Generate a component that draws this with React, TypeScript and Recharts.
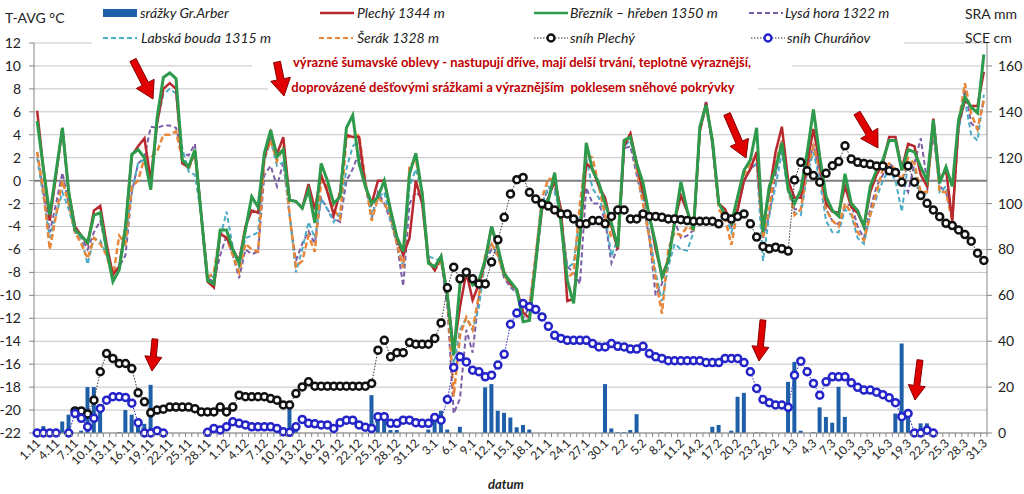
import {
  ComposedChart,
  Bar,
  Line,
  XAxis,
  YAxis,
  CartesianGrid,
  ReferenceLine,
} from 'recharts';

// months of the winter season (1.11 – 31.3)
const months = [
  { m: 11, days: 30 },
  { m: 12, days: 31 },
  { m: 1, days: 31 },
  { m: 2, days: 28 },
  { m: 3, days: 31 },
];
const dates: string[] = months.flatMap(({ m, days }) =>
  Array.from({ length: days }, (_, d) => `${d + 1}.${m}`)
);

const tempTicks = [-22, -20, -18, -16, -14, -12, -10, -8, -6, -4, -2, 0, 2, 4, 6, 8, 10, 12];
const rightTicks = [0, 20, 40, 60, 80, 100, 120, 140, 160];

// T-AVG °C
const plechy = [
  6.1, 1, -3.5, 0.5, 4.6, -1, -4, -4.8, -5.5, -2.6,
  -2.2, -5.5, -8.2, -7.5, -4, 2.2, 3, 3.7, 0, 5,
  8, 8.5, 8, 1.5, 1.2, 2.5, -3, -8.8, -9.3, -4.6,
  -5, -6, -7, -4, -2.6, -2.8, 2, 4.2, 2.3, 3.8,
  -1.7, -1.8, -2.4, -0.3, -2.5, 0.5, -1, -3, -1, 4,
  3.8, 3.8, -0.5, -2, 0, 0, -2.6, -5, -6.5, -5,
  0, -2, -7, -7.8, -6.6, -10, -14.8, -11, -8, -10.4,
  -9, -7, -4, -6, -8, -9, -9.5, -11.5, -12, -7,
  -2.5, -1.5, 0, -2.5, -10.5, -10.3, -5, 1.5, 1, -0.5,
  -1.5, -4, -6, 3, 4.1, 1.5, -1, -3, -6, -8.2,
  -7, -3.5, -1.3, -2.7, -4.2, 4.3, 6.8, 3.3, -2, -2.5,
  -3.8, -2.5, 0, 1, 2.5, -4, -1, 2.5, 4.7, 0,
  -1.5, -1.5, 1.5, 4.5, 1.5, -2, -2.7, -2.8, -0.5, -2.3,
  -2.8, -4, -1, 0.5, 1.5, 3.8, 3.8, 1, 3.2, 3,
  0.5, -0.5, 5.4, 0, 1, -3.5, 5, 7, 6.5, 6.5,
  9.5,
];
const breznik = [
  5.2, 1, -3, 0.8, 4.6, -1, -4.3, -4.8, -5.4, -3,
  -2.8, -6, -8.8, -7.8, -4, 2.3, 2.7, 2, -0.8, 5.5,
  9, 9.4, 8.9, 1.8, 1.2, 2.7, -3, -8.7, -9, -4.3,
  -4.3, -6, -7.2, -4.3, -1.4, -2.3, 2.4, 4.4, 2.1, 2.7,
  -1.7, -1.8, -2.4, -0.8, -3.7, 1.5, 0, -2, -1.4, 4.6,
  5.7, 1.5, -0.5, -2, -1.4, 0, -2.6, -4.9, -6.2, 0.6,
  2.4, -1.1, -7.2, -7.5, -6.6, -10, -15.2, -9, -7.9, -9.1,
  -8.7, -6.9, -4, -5.8, -8.1, -8.8, -9.5, -12.3, -12.2, -7.2,
  -2, -1.7, 0.7, -3.7, -8.7, -10.7, -4.9, 3.3, 0.9, -0.2,
  -2, -3.7, -5.8, 3.5, 3.8, 1.5, -0.2, -3.1, -5.5, -8.4,
  -7, -3.7, -0.1, -2.6, -4.3, 4.7, 6.6, 3.5, -2, -2.9,
  -3.7, -1.4, 0.9, 1.8, 4.6, -4.5, -0.5, 1, 3.3, -0.8,
  -2, -0.8, 2.4, 6.2, 2.1, -1.4, -2.6, -3.1, 0.6, -2,
  -2.6, -4, -0.5, 0.9, 1.8, 3.5, 3.5, 0.9, 2.7, 2.5,
  1.2, 0, 5.3, -0.2, 1.2, -0.5, 5.3, 7.3, 6.4, 5.9,
  11,
];
const lysa = [
  2.5, -1, -4.5, -2, 0.7, -2, -4.5, -5, -6, -4.5,
  -3.5, -6, -8, -7.5, -6.5, -1, 1.5, 2, 4.7, 4.6,
  4.8, 4.8, 4.6, 2.4, 2.2, 3.2, -3, -8.5, -8.8, -6.5,
  -4.8, -6.5, -8.5, -6, -6.4, -6.2, 0.5, 1.3, -0.5, 1.6,
  -3, -7, -5.5, -4.4, -5.5, -1.5, -2.5, -3.3, -3.6, 0,
  1, 2.5, -0.3, -3.3, -1, -2, -3.5, -5.5, -9.2, -2,
  -1, -1.5, -7, -7.8, -7, -11, -20.3, -19, -13, -15,
  -10, -7, -6, -6.5, -8.5, -9.3, -9.8, -12, -11, -6.5,
  -2, -0.7, -0.5, -3, -7.5, -8, -9, -0.6, -2, -2,
  -3.5, -7.2, -5.8, 2.8, 3, 0.5, -2, -5, -10, -9,
  -6.5, -3.5, -5, -4.8, -4.3, 4.5, 7, 3, -2, -3,
  -4, -2.5, 0, 1, 1.5, -5, -3, 0.5, 3.5, -0.5,
  -2.5, -2.5, 0.8, 3.2, 0.5, -2.5, -3.5, -3.8, -2.3, -2,
  -4, -5, -2.5, -0.5, 0.5, 1.5, 1, 0, -1, 1.5,
  3.7, 0, 4, -0.5, -1, -3, 4.5, 8, 5, 4.5,
  7,
];
const labska = [
  2, -1.5, -5, -3, -1, -2.5, -4.5, -5, -7.3, -5,
  -5.2, -6.5, -8, -7.5, -5, -1, 1.6, 1.8, -0.5, 5,
  7.5, 8, 7.6, 2.8, 0.8, 0.5, -3, -8, -8.5, -5,
  -2.7, -5.8, -7.5, -5, -4.8, -4.5, 1.7, 3.5, 1.3, 1.6,
  -3, -8, -6, -3.6, -5, -1.6, -2.5, -3.6, -2.8, 1,
  3, 3.5, 0, -3, -1.5, -1, -3.5, -5.5, -7.5, -0.5,
  1, -1, -6.6, -6.8, -7, -10, -16, -13, -12, -13,
  -11, -7, -5.5, -6.5, -8, -9, -9.8, -11, -10.8, -7,
  -2, -0.5, -1, -3, -7.6, -7.2, -3, 2, -0.7, -1.5,
  -3, -6.6, -5, 3, 3.5, 1, -1.5, -4.5, -8, -10.5,
  -7.5, -5.5, -6, -6.1, -4.5, 4.3, 6.5, 3, -2, -3,
  -4.5, -2.5, 0, 1, 1.5, -7, -3, -0.5, 2.5, -1,
  -2.8, -3, 0.5, 2.5, 0, -3.5, -4.5, -4.5, -2.5, -3,
  -5, -5.5, -3, -1.5, 0, 1, 0, -2.7, 1.5, 1,
  -1.5, -1, 4.5, -1, -0.5, -3.5, 4.5, 7, 4, 3.5,
  7.5,
];
const serak = [
  2.5, -1, -6, -3, 0, -2, -4.5, -5.5, -6.8, -5,
  -5.5, -6.5, -8.5, -4.8, -5.5, -0.5, 0, 2, 2, 2.5,
  4, 4, 4.3, 1.8, 1, 2.5, -3, -8.5, -8, -4.5,
  -5, -6.5, -8, -5.5, -6, -6.2, 2, 3.5, 1.7, 3,
  -3, -7.5, -7, -4.8, -6.2, 0, -0.5, -2.5, -3.3, 3.8,
  3.8, 4, 0, -3.5, -1.5, -2, -3, -5.5, -7.6, 1.3,
  1.8, -1, -7, -7.8, -7, -10, -18.8, -13.5, -11.9, -13,
  -10, -6.5, -5.5, -6.5, -8.3, -9, -9.5, -11.5, -11, -6.5,
  -1.5, 0.2, 0, -3, -8.5, -8, -2, 2.3, 2, -0.5,
  -3, -5, -5, 3.5, 4, 1, -2, -5, -8.5, -11.6,
  -6, -4.5, -4.8, -4, -4.3, 4.5, 6.5, 3.5, -2.5, -3.3,
  -5.6, -2.5, 0.5, 1.5, 2.2, -5, -2.5, 1.5, 3.5, -0.5,
  -3, -2.5, 1, 3, 1, -2.5, -3.5, -4, -2, -2.8,
  -4.5, -5.2, -3, -1, 1, 1.5, 1, 0, 2, 1.5,
  -1, -1, 5, -1, -1, -3.5, 5, 8.5, 5.8, 4.5,
  7,
];

// SRA mm – srážky Gr.Arber
const srazky = [
  0.5, 3, 0.5, 1, 5, 8, 0, 1, 20, 20,
  10, 0, 0, 0.3, 10, 8, 3, 4, 21, 0,
  0, 0, 0, 0, 0, 0, 0, 0, 0, 0,
  0, 0, 0, 0, 0, 0, 0, 0, 0, 0,
  12, 1, 0, 0, 0, 0, 0, 0, 0, 0,
  0, 0, 0, 16.5, 7, 5.6, 1.3, 1.3, 0, 0,
  0, 0, 1.5, 8.5, 9.7, 1.5, 0, 2.7, 0, 0,
  0, 19.9, 21.3, 9.7, 8.8, 6.8, 2.5, 3.5, 1.5, 0,
  0, 0, 0, 0, 0, 0, 0, 0, 0, 0,
  21.3, 2, 0.3, 0.3, 1.3, 8.2, 0, 0, 0, 0.2,
  0.2, 0, 0, 0, 0, 0, 0, 2.7, 3.5, 0,
  1, 15.8, 17.5, 0, 0.2, 0.2, 0, 0, 0, 22.3,
  31, 1, 0, 0.3, 11.2, 7, 4.5, 20.1, 7, 0,
  0, 0, 0, 0, 0, 0, 8.5, 39, 8.5, 0,
  4.2, 4.2, 0, 0, 0, 0, 0, 0, 0, 0,
  0,
];

// SCE cm
const snihPlechy = [
  null, null, null, null, null, null, 9.6, 9.6, 8.3, 14.3,
  26.7, 34.6, 32.5, 30.3, 30.3, 28.1, 17.5, 13.6, 8.8, 10,
  10.4, 11.3, 11.3, 11.3, 11.3, 10.6, 9.2, 9.2, 9.2, 11.3,
  9.2, 11.3, 16.5, 15.8, 15.8, 15.8, 15.8, 15, 14.3, 12.2,
  12.2, 17.2, 20.1, 22.3, 20.4, 20.4, 20.4, 20.4, 20.4, 20.4,
  20.4, 20.4, 20.4, 21.6, 36.1, 40.4, 33.2, 35, 35, 39.4,
  38.7, 38.7, 38.7, 41.2, 48, 63.3, 72.3, 67.2, 70.1, 67.2,
  65, 65, 74.5, 84.2, 94, 104.2, 110.4, 111.4, 104.9, 102,
  99.9, 98.9, 97.2, 95.5, 95.5, 93.3, 91.2, 91.2, 92.6, 92.6,
  91.2, 94.4, 97.2, 97.2, 93.3, 93.3, 95.5, 94.4, 94.4, 94,
  93.3, 93.3, 93, 92.6, 92.3, 92.3, 92.3, 92.3, 91.2, 94.4,
  93.3, 94.4, 95.5, 91.2, 85.4, 81.3, 80.3, 81, 80.3, 79.3,
  110.3, 118, 114.3, 112.2, 109.3, 113.2, 116.5, 118.3, 125.2, 119.4,
  118, 117.5, 117.1, 116.4, 116.4, 114.3, 113.6, 109.3, 116.4, 109.3,
  103.5, 100.1, 97.2, 94.3, 91.4, 90.4, 88.5, 86.5, 83.6, 78.4,
  75.2,
];
const snihChuranov = [
  0, 0, 0, 0, null, 0, 8.5, 6.4, 2.7, 6.4,
  10.7, 14.3, 15.8, 15.8, 15.5, 13, 4.5, 0, 0, 1,
  0, null, null, null, null, null, null, 0.3, 2, 1.3,
  2.7, 4.9, 4.2, 3.5, 2.7, 2.7, 2.7, 2.7, 2, 0.5,
  0.3, 2.7, 5.9, 4.2, 4, 3.5, 3.5, 2, 4.5, 5.6,
  5.6, 3.5, 2.5, 2, 7.1, 7.1, 4.2, 4.2, 5.6, 5.6,
  4.5, 4.2, 4.2, 6.8, 5.6, 14.6, 28.6, 33.2, 31, 27.4,
  26.7, 24.5, 25.2, 29.6, 34.3, 47.4, 52.3, 56.4, 55, 53.8,
  50.6, 46.5, 42.6, 41.2, 40.4, 40.4, 40.4, 40.4, 39, 37.5,
  37.5, 39, 37.8, 37.5, 36.6, 36.6, 37.8, 34.6, 33.2, 32.5,
  31.5, 31.5, 31.5, 31.5, 31.5, 31.5, 30.7, 30.7, 30.7, 32.5,
  32.5, 32.5, 30.7, 26.7, 19.4, 14.6, 13.2, 12.2, 12.2, 11.2,
  25.2, 31.3, 26.7, 21.6, 16.5, 22.3, 24.5, 24.5, 24.5, 21.9,
  19.9, 18.7, 18.7, 17.8, 16.7, 15.4, 13.2, 7.1, 8.5, 0,
  0, 1.2, 0, null, null, null, null, null, null, null,
  null,
];

const FONT = 'Lato, "Open Sans", sans-serif';
const AXIS = '#868686';
const C = {
  bar: '#1F5FA8',
  plechy: '#B8282E',
  breznik: '#2E9A4C',
  lysa: '#7B5EA7',
  labska: '#4BACC6',
  serak: '#E8873A',
  snihP: '#111111',
  snihC: '#2424C8',
};

const data = dates.map((d, i) => ({
  d,
  srazky: srazky[i],
  plechy: plechy[i],
  breznik: breznik[i],
  lysa: lysa[i],
  labska: labska[i],
  serak: serak[i],
  snihPlechy: snihPlechy[i],
  snihChuranov: snihChuranov[i],
}));

function DateTick(props: any) {
  const { x, y, payload } = props;
  const i = props.index ?? payload.index;
  return (
    <g>
      <line x1={x + 3.15} x2={x + 3.15} y1={y} y2={y + 4} stroke={AXIS} />
      {i % 3 === 0 && (
        <text
          transform={`translate(${x + 4},${y + 11}) rotate(-45)`}
          textAnchor="end"
          fontSize={12}
          fill="#222"
          fontFamily={FONT}
        >
          {payload.value}
        </text>
      )}
    </g>
  );
}

// red annotation arrows: [tailX, tailY, tipX, tipY, scale]
const arrows = [
  [133, 60, 153, 99, 1],
  [277, 62, 284, 96, 1],
  [727, 114, 746, 158, 1],
  [857, 113, 878, 148, 1],
  [155, 339, 152, 371, 0.85],
  [763, 320, 759, 361, 0.85],
  [920, 360, 915, 400, 0.85],
];

function arrowPath(x1: number, y1: number, x2: number, y2: number, s: number) {
  const sw = 7 * s, hw = 20 * s, hl = 17 * s;
  const dx = x2 - x1, dy = y2 - y1;
  const len = Math.hypot(dx, dy);
  const ux = dx / len, uy = dy / len;
  const px = -uy, py = ux;
  const bx = x2 - ux * hl, by = y2 - uy * hl;
  const pts = [
    [x1 + (px * sw) / 2, y1 + (py * sw) / 2],
    [bx + (px * sw) / 2, by + (py * sw) / 2],
    [bx + (px * hw) / 2, by + (py * hw) / 2],
    [x2, y2],
    [bx - (px * hw) / 2, by - (py * hw) / 2],
    [bx - (px * sw) / 2, by - (py * sw) / 2],
    [x1 - (px * sw) / 2, y1 - (py * sw) / 2],
  ];
  return pts.map((p) => p.join(',')).join(' ');
}

function Sym({ kind, color }: { kind: string; color: string }) {
  return (
    <svg width={34} height={12} style={{ display: 'block' }}>
      {kind === 'bar' && <rect x={0} y={2} width={34} height={8} fill={color} />}
      {kind === 'line' && <line x1={0} x2={34} y1={6} y2={6} stroke={color} strokeWidth={2.5} />}
      {kind === 'dash' && (
        <line x1={0} x2={34} y1={6} y2={6} stroke={color} strokeWidth={2} strokeDasharray="5 3" />
      )}
      {kind === 'dot' && (
        <g>
          <line x1={0} x2={34} y1={6} y2={6} stroke="#333" strokeWidth={1} strokeDasharray="1.5 1.5" />
          <circle cx={17} cy={6} r={3.5} fill="#fff" stroke={color} strokeWidth={2.4} />
        </g>
      )}
    </svg>
  );
}

const legendItems = [
  { sx: 103, tx: 140, cy: 13, kind: 'bar', color: C.bar, label: 'srážky Gr.Arber' },
  { sx: 320, tx: 357, cy: 13, kind: 'line', color: C.plechy, label: 'Plechý 1344 m' },
  { sx: 534, tx: 570, cy: 13, kind: 'line', color: C.breznik, label: 'Březník – hřeben 1350 m' },
  { sx: 749, tx: 785, cy: 13, kind: 'dash', color: C.lysa, label: 'Lysá hora 1322 m' },
  { sx: 103, tx: 141, cy: 38, kind: 'dash', color: C.labska, label: 'Labská bouda 1315 m' },
  { sx: 319, tx: 357, cy: 38, kind: 'dash', color: C.serak, label: 'Šerák 1328 m' },
  { sx: 534, tx: 570, cy: 38, kind: 'dot', color: C.snihP, label: 'sníh Plechý' },
  { sx: 751, tx: 787, cy: 38, kind: 'dot', color: C.snihC, label: 'sníh Churáňov' },
];

export default function App() {
  return (
    <div style={{ position: 'relative', width: 1024, height: 494, background: '#fff', fontFamily: FONT }}>
      <style>{`body{margin:0}`}</style>
      <ComposedChart
        width={1024}
        height={494}
        data={data}
        margin={{ top: 43, right: 0, bottom: 0, left: 0 }}
      >
        <CartesianGrid yAxisId="t" vertical={false} stroke="#C4C4C4" />
        <XAxis
          dataKey="d"
          height={61}
          interval={0}
          tickLine={false}
          tickSize={0}
          tickMargin={0}
          axisLine={{ stroke: AXIS }}
          tick={<DateTick />}
        />
        <YAxis
          yAxisId="t"
          orientation="left"
          width={34}
          domain={[-22, 12]}
          ticks={tempTicks}
          interval={0}
          axisLine={{ stroke: AXIS }}
          tickLine={{ stroke: AXIS }}
          tickSize={5}
          tickMargin={8}
          tick={{ fontSize: 14, fill: '#222', fontFamily: FONT }}
        />
        <YAxis
          yAxisId="r"
          orientation="right"
          width={37}
          domain={[0, 170]}
          ticks={rightTicks}
          interval={0}
          axisLine={{ stroke: AXIS }}
          tickLine={{ stroke: AXIS }}
          tickSize={5}
          tickMargin={6}
          tick={{ fontSize: 14, fill: '#222', fontFamily: FONT }}
        />
        <ReferenceLine yAxisId="t" y={0} stroke="#7F7F7F" strokeWidth={2} />
        <Bar yAxisId="r" dataKey="srazky" fill={C.bar} barSize={4} isAnimationActive={false} />
        <Line yAxisId="t" dataKey="lysa" stroke={C.lysa} strokeWidth={2} strokeDasharray="5 3" dot={false} isAnimationActive={false} />
        <Line yAxisId="t" dataKey="labska" stroke={C.labska} strokeWidth={2} strokeDasharray="5 3" dot={false} isAnimationActive={false} />
        <Line yAxisId="t" dataKey="serak" stroke={C.serak} strokeWidth={2.5} strokeDasharray="6 3" dot={false} isAnimationActive={false} />
        <Line yAxisId="t" dataKey="plechy" stroke={C.plechy} strokeWidth={2.5} dot={false} isAnimationActive={false} />
        <Line yAxisId="t" dataKey="breznik" stroke={C.breznik} strokeWidth={3} dot={false} isAnimationActive={false} />
        <Line
          yAxisId="r"
          dataKey="snihPlechy"
          stroke="#333"
          strokeWidth={1}
          strokeDasharray="1.5 1.5"
          dot={{ r: 3.5, stroke: C.snihP, strokeWidth: 2.5, fill: '#fff', strokeDasharray: '' }}
          isAnimationActive={false}
        />
        <Line
          yAxisId="r"
          dataKey="snihChuranov"
          stroke={C.snihC}
          strokeWidth={1}
          strokeDasharray="1.5 1.5"
          dot={{ r: 3.5, stroke: C.snihC, strokeWidth: 2.5, fill: '#fff', strokeDasharray: '' }}
          isAnimationActive={false}
        />
      </ComposedChart>

      {/* legend box */}
      <div style={{ position: 'absolute', left: 92, top: 0, width: 812, height: 50, background: '#fff' }} />
      {legendItems.map((it) => (
        <div key={it.label}>
          <div style={{ position: 'absolute', left: it.sx, top: it.cy - 6 }}>
            <Sym kind={it.kind} color={it.color} />
          </div>
          <div
            style={{
              position: 'absolute',
              left: it.tx,
              top: it.cy - 9,
              lineHeight: '18px',
              fontSize: 14,
              fontStyle: 'italic',
              color: '#222',
              whiteSpace: 'nowrap',
            }}
          >
            {it.label}
          </div>
        </div>
      ))}

      {/* axis titles */}
      <div style={{ position: 'absolute', left: 5, top: 9, fontSize: 14, color: '#222', lineHeight: '18px' }}>T-AVG °C</div>
      <div style={{ position: 'absolute', left: 965, top: 5, fontSize: 14, color: '#222', lineHeight: '18px' }}>SRA mm</div>
      <div style={{ position: 'absolute', left: 965, top: 29, fontSize: 14, color: '#222', lineHeight: '18px' }}>SCE cm</div>
      <div
        style={{
          position: 'absolute',
          left: 488,
          top: 475,
          fontSize: 13,
          fontWeight: 700,
          fontStyle: 'italic',
          color: '#222',
          lineHeight: '18px',
        }}
      >
        datum
      </div>

      {/* annotation */}
      <div style={{ position: 'absolute', left: 252, top: 52, width: 540, height: 23, background: '#fff' }} />
      <div style={{ position: 'absolute', left: 268, top: 77, width: 490, height: 23, background: '#fff' }} />
      <div
        style={{
          position: 'absolute',
          left: 252,
          top: 53,
          width: 540,
          textAlign: 'center',
          fontSize: 13,
          fontWeight: 700,
          color: '#C00000',
          lineHeight: '18px',
          whiteSpace: 'nowrap',
        }}
      >
        výrazné šumavské oblevy - nastupují dříve, mají delší trvání, teplotně výraznější,
      </div>
      <div
        style={{
          position: 'absolute',
          left: 268,
          top: 78,
          width: 490,
          textAlign: 'center',
          fontSize: 13,
          fontWeight: 700,
          color: '#C00000',
          lineHeight: '18px',
          whiteSpace: 'pre',
        }}
      >
        {'doprovázené dešťovými srážkami a výraznějším  poklesem sněhové pokrývky'}
      </div>

      <svg width={1024} height={494} style={{ position: 'absolute', left: 0, top: 0, pointerEvents: 'none' }}>
        {arrows.map(([x1, y1, x2, y2, s], i) => (
          <polygon
            key={i}
            points={arrowPath(x1, y1, x2, y2, s)}
            fill="#E00000"
            stroke="#8A0000"
            strokeWidth={1}
            strokeLinejoin="round"
          />
        ))}
      </svg>
    </div>
  );
}
